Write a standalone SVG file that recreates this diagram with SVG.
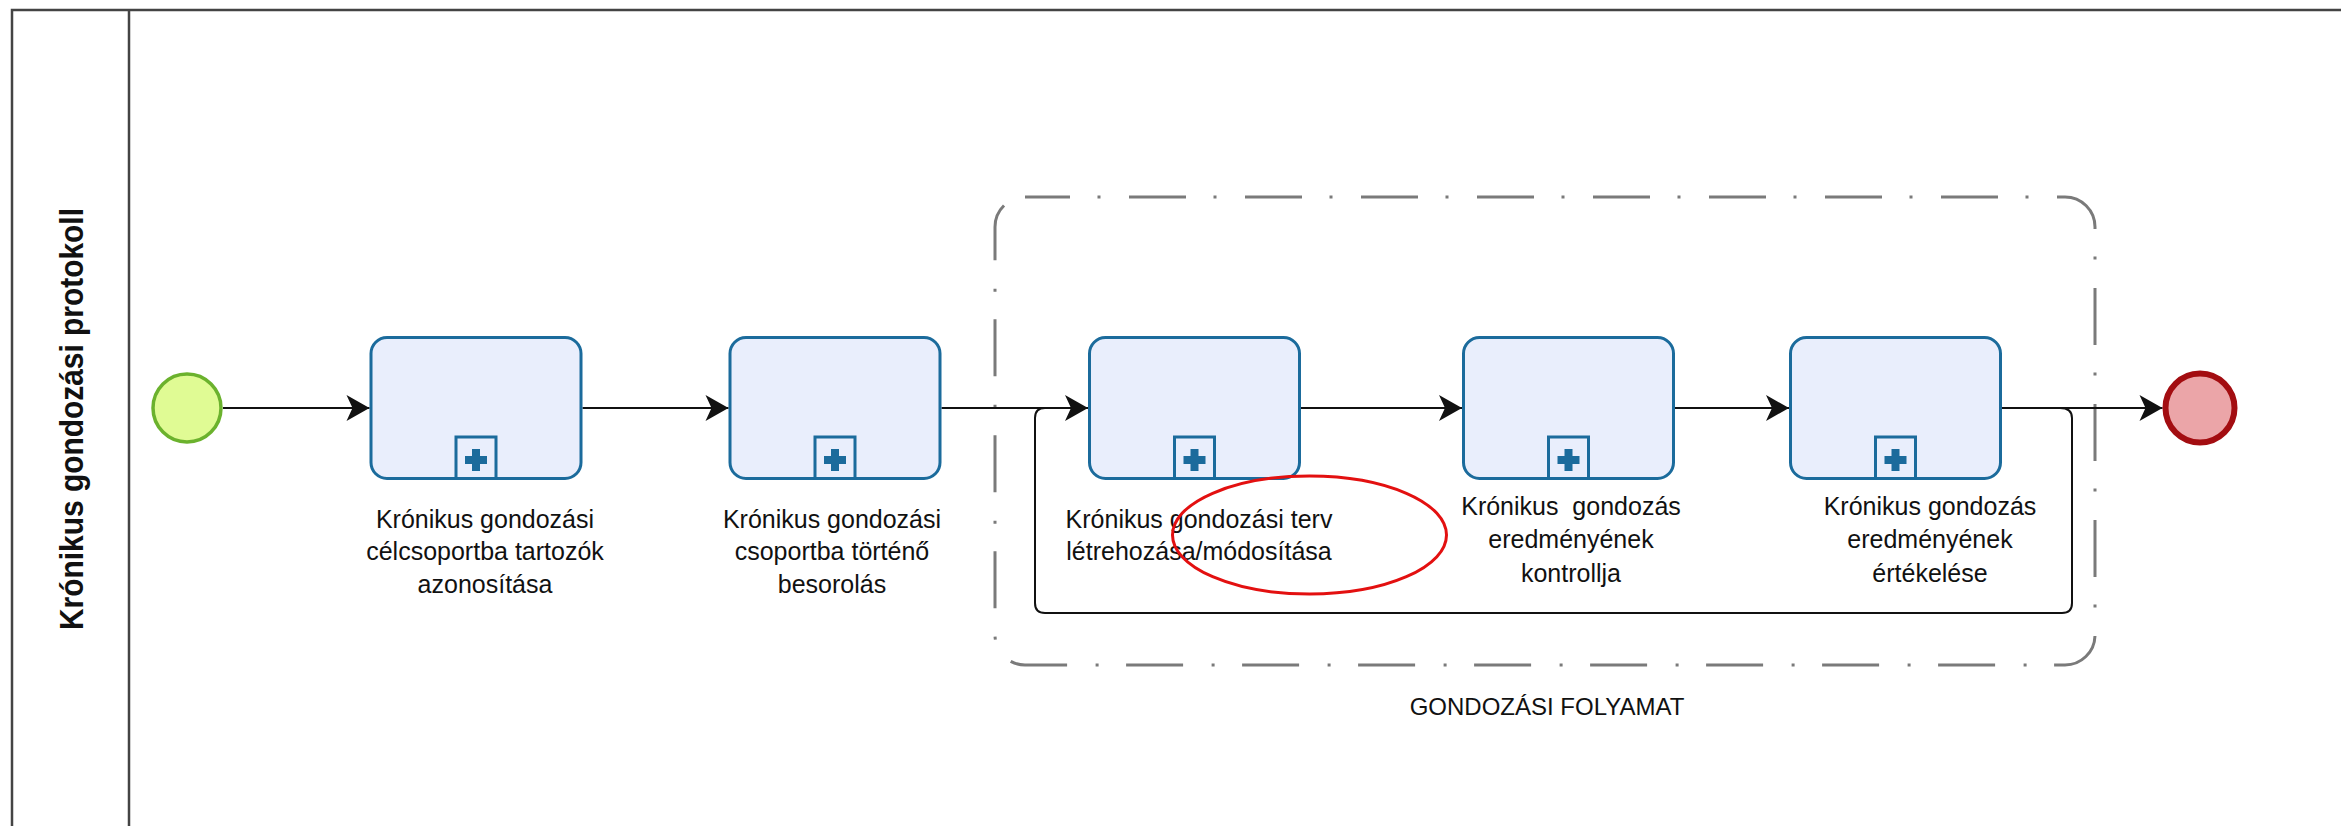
<svg xmlns="http://www.w3.org/2000/svg" width="2341" height="826" viewBox="0 0 2341 826">
  <defs>
    <style>
      .pool { fill: none; stroke: #444444; stroke-width: 2.5; }
      .title { font-family: "Liberation Sans", Arial, sans-serif; font-weight: bold; font-size: 33px; fill: #111111; }
      .task { fill: #e9eefc; stroke: #1b6b9c; stroke-width: 3; }
      .marker-box { fill: #e9eefc; stroke: #1b6b9c; stroke-width: 3; }
      .marker-plus { fill: #1b6b9c; }
      .label { font-family: "Liberation Sans", Arial, sans-serif; font-size: 25px; fill: #111111; text-anchor: middle; white-space: pre; }
      .glabel { font-family: "Liberation Sans", Arial, sans-serif; font-size: 24px; fill: #111111; text-anchor: middle; }
      .flow { fill: none; stroke: #111111; stroke-width: 2.2; }
      .loop { fill: none; stroke: #111111; stroke-width: 2; }
      .group { fill: none; stroke: #7a7a7a; stroke-width: 3; stroke-dasharray: 57 27.5 3 28.5; stroke-dashoffset: 12; }
      .start { fill: #e0fb94; stroke: #6bb22d; stroke-width: 3.5; }
      .end { fill: #eba5a8; stroke: #a30d11; stroke-width: 6; }
      .note { fill: none; stroke: #e31010; stroke-width: 3; }
    </style>
    <marker id="arrow" markerUnits="userSpaceOnUse" markerWidth="26" markerHeight="30" refX="24" refY="14" orient="auto">
      <path d="M24,14 L1,1 L7,14 L1,27 Z" fill="#111111"/>
    </marker>
  </defs>

  <rect width="2341" height="826" fill="#ffffff"/>

  <!-- pool with lane header -->
  <g id="pool">
    <path class="pool" d="M12,840 L12,10 L2360,10"/>
    <line class="pool" x1="129" y1="10" x2="129" y2="840"/>
    <text class="title" transform="translate(83,419) rotate(-90)" text-anchor="middle" textLength="422" lengthAdjust="spacingAndGlyphs">Krónikus gondozási protokoll</text>
  </g>

  <!-- expanded group around the care cycle -->
  <g id="group-gondozasi-folyamat">
    <rect class="group" x="995" y="197" width="1100" height="468" rx="30" ry="30"/>
    <text class="glabel" x="1547" y="715">GONDOZÁSI FOLYAMAT</text>
  </g>

  <!-- sequence flows -->
  <g id="connectors">
    <line class="flow" x1="223" y1="408" x2="369.5" y2="408" marker-end="url(#arrow)"/>
    <line class="flow" x1="582.5" y1="408" x2="728.5" y2="408" marker-end="url(#arrow)"/>
    <line class="flow" x1="941.5" y1="408" x2="1088" y2="408" marker-end="url(#arrow)"/>
    <line class="flow" x1="1300.5" y1="408" x2="1462" y2="408" marker-end="url(#arrow)"/>
    <line class="flow" x1="1674.5" y1="408" x2="1789" y2="408" marker-end="url(#arrow)"/>
    <line class="flow" x1="2001.5" y1="408" x2="2162.5" y2="408" marker-end="url(#arrow)"/>
    <path class="loop" d="M2060,408 Q2072,408 2072,418 L2072,603 Q2072,613 2062,613 L1045,613 Q1035,613 1035,603 L1035,418 Q1035,408 1045,408"/>
  </g>

  <!-- events -->
  <g id="start-event">
    <circle class="start" cx="187" cy="408" r="34"/>
  </g>
  <g id="end-event">
    <circle class="end" cx="2200" cy="408" r="34.5"/>
  </g>

  <!-- collapsed sub-processes -->
  <g id="task-1">
    <rect class="task" x="371" y="337.5" width="210" height="141" rx="16"/>
    <rect class="marker-box" x="456" y="437" width="40" height="41.5"/>
    <path class="marker-plus" d="M472,449 h8 v7 h7 v8 h-7 v7 h-8 v-7 h-7 v-8 h7 Z"/>
    <text class="label" x="485" y="528">Krónikus gondozási</text>
    <text class="label" x="485" y="560">célcsoportba tartozók</text>
    <text class="label" x="485" y="593">azonosítása</text>
  </g>

  <g id="task-2">
    <rect class="task" x="730" y="337.5" width="210" height="141" rx="16"/>
    <rect class="marker-box" x="815" y="437" width="40" height="41.5"/>
    <path class="marker-plus" d="M831,449 h8 v7 h7 v8 h-7 v7 h-8 v-7 h-7 v-8 h7 Z"/>
    <text class="label" x="832" y="528">Krónikus gondozási</text>
    <text class="label" x="832" y="560">csoportba történő</text>
    <text class="label" x="832" y="593">besorolás</text>
  </g>

  <g id="task-3">
    <rect class="task" x="1089.5" y="337.5" width="210" height="141" rx="16"/>
    <rect class="marker-box" x="1174.5" y="437" width="40" height="41.5"/>
    <path class="marker-plus" d="M1190.5,449 h8 v7 h7 v8 h-7 v7 h-8 v-7 h-7 v-8 h7 Z"/>
    <text class="label" x="1199" y="528">Krónikus gondozási terv</text>
    <text class="label" x="1199" y="560">létrehozása/módosítása</text>
  </g>

  <g id="task-4">
    <rect class="task" x="1463.5" y="337.5" width="210" height="141" rx="16"/>
    <rect class="marker-box" x="1548.5" y="437" width="40" height="41.5"/>
    <path class="marker-plus" d="M1564.5,449 h8 v7 h7 v8 h-7 v7 h-8 v-7 h-7 v-8 h7 Z"/>
    <text class="label" x="1571" y="515" xml:space="preserve">Krónikus  gondozás</text>
    <text class="label" x="1571" y="548">eredményének</text>
    <text class="label" x="1571" y="582">kontrollja</text>
  </g>

  <g id="task-5">
    <rect class="task" x="1790.5" y="337.5" width="210" height="141" rx="16"/>
    <rect class="marker-box" x="1875.5" y="437" width="40" height="41.5"/>
    <path class="marker-plus" d="M1891.5,449 h8 v7 h7 v8 h-7 v7 h-8 v-7 h-7 v-8 h7 Z"/>
    <text class="label" x="1930" y="515">Krónikus gondozás</text>
    <text class="label" x="1930" y="548">eredményének</text>
    <text class="label" x="1930" y="582">értékelése</text>
  </g>

  <!-- hand-drawn highlight -->
  <g id="highlight">
    <ellipse class="note" cx="1309.5" cy="535" rx="137" ry="59"/>
  </g>
</svg>
